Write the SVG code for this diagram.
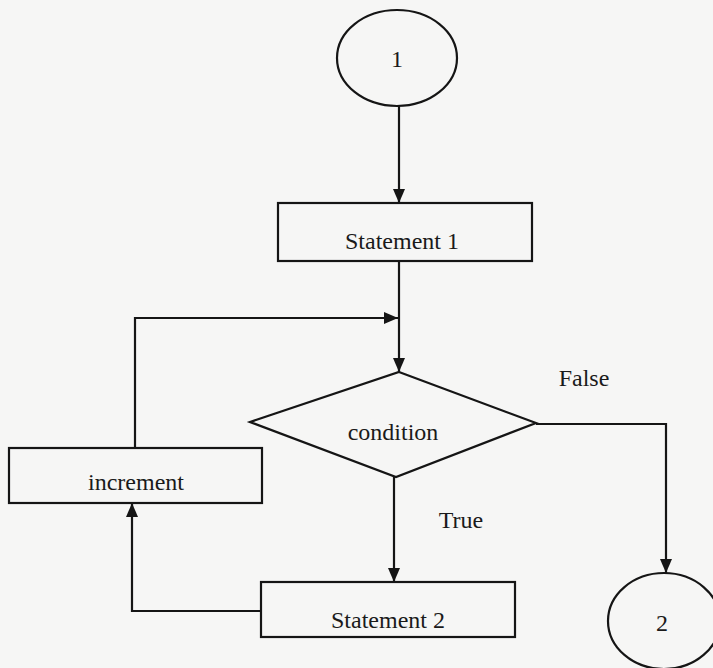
<svg xmlns="http://www.w3.org/2000/svg" width="713" height="668" viewBox="0 0 713 668">
<defs>
<style>
.shape{fill:none;stroke:#151515;stroke-width:2.2}
.line{fill:none;stroke:#151515;stroke-width:2.2}
text{font-family:"Liberation Serif","Times New Roman",serif;font-size:24px;fill:#1a1a1a;text-anchor:middle}
</style>
<marker id="arr" viewBox="0 0 14 12" refX="14" refY="6" markerWidth="14" markerHeight="12" markerUnits="userSpaceOnUse" orient="auto">
<path d="M0,0 L14,6 L0,12 Z" fill="#151515"/>
</marker>
</defs>
<rect width="713" height="668" fill="#f6f6f5"/>
<g id="connectors">
<line class="line" x1="399" y1="106" x2="399" y2="203" marker-end="url(#arr)"/>
<line class="line" x1="399" y1="261" x2="399" y2="372" marker-end="url(#arr)"/>
<polyline class="line" points="135,448 135,318 398,318" marker-end="url(#arr)"/>
<line class="line" x1="394" y1="477" x2="394" y2="582" marker-end="url(#arr)"/>
<polyline class="line" points="261,611 132,611 132,503" marker-end="url(#arr)"/>
<polyline class="line" points="536,424 666,424 666,573" marker-end="url(#arr)"/>
<text x="584" y="386">False</text>
<text x="461" y="528">True</text>
</g>
<g id="start1">
<ellipse class="shape" cx="397" cy="58" rx="60" ry="48"/>
<text x="397" y="67">1</text>
</g>
<g id="statement1">
<rect class="shape" x="278" y="203" width="254" height="58"/>
<text x="402" y="249">Statement 1</text>
</g>
<g id="condition">
<polygon class="shape" points="399,372 536,423 396,477 250,422"/>
<text x="393" y="440">condition</text>
</g>
<g id="increment">
<rect class="shape" x="9" y="448" width="253" height="55"/>
<text x="136" y="490">increment</text>
</g>
<g id="statement2">
<rect class="shape" x="261" y="582" width="254" height="55"/>
<text x="388" y="628">Statement 2</text>
</g>
<g id="end2">
<ellipse class="shape" cx="664" cy="621" rx="56" ry="48"/>
<text x="662" y="631">2</text>
</g>
</svg>
